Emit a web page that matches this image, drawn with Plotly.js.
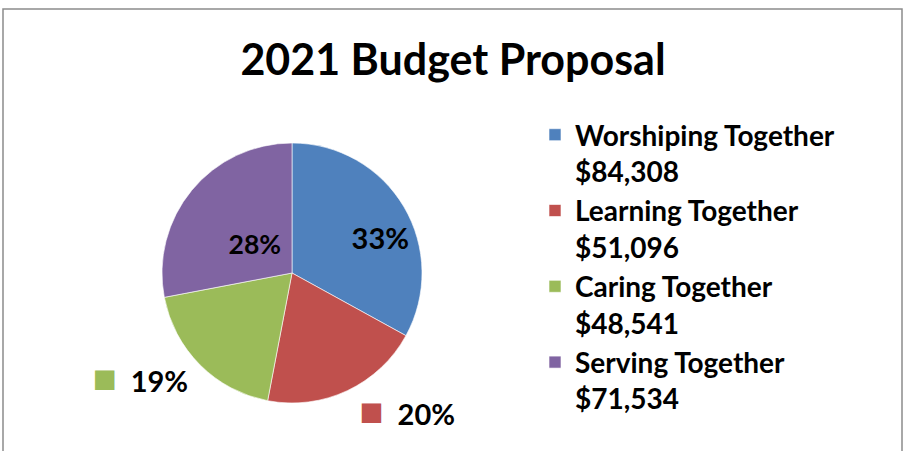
<!DOCTYPE html>
<html>
<head>
<meta charset="utf-8">
<script src="https://cdn.plot.ly/plotly-3.0.1.min.js"></script>
<style>html,body{margin:0;padding:0;background:#fff;}#chart{width:905px;height:451px;}</style>
</head>
<body>
<div id="chart"></div>
<script>
const categories = ["Worshiping Together", "Learning Together", "Caring Together", "Serving Together"];
const amounts = [84308, 51096, 48541, 71534];
const amountLabels = ["$84,308", "$51,096", "$48,541", "$71,534"];
const colors = ["#4F81BD", "#C0504D", "#9BBB59", "#8064A2"];
const textPositions = ["inside", "outside", "outside", "inside"];
const titleText = "2021 Budget Proposal";

const NB = "\u00A0";
const legendLabels = categories.map((c, i) => c + "<br>" + amountLabels[i]);
// inside labels padded to sit where the original chart placed them
const texts = [
  NB.repeat(8) + "%{percent:.0%}",
  '<span style="color:' + colors[1] + ';font-size:40px">■</span>  %{percent:.0%}',
  '<span style="color:' + colors[2] + ';font-size:40px">■</span>  %{percent:.0%}',
  NB + "<br>" + NB.repeat(6) + "%{percent:.0%}"
];

const pctFont = {family: "Lato, sans-serif", size: 29, color: "#000000", weight: "bold"};

const trace = {
  type: "pie",
  labels: legendLabels,
  values: amounts,
  sort: false,
  direction: "clockwise",
  rotation: 0,
  marker: {colors: colors, line: {color: "#ffffff", width: 0.6}},
  textposition: textPositions,
  texttemplate: texts,
  textfont: pctFont,
  insidetextfont: pctFont,
  outsidetextfont: pctFont,
  insidetextorientation: "horizontal",
  hoverinfo: "label+percent",
  domain: {x: [162/905, 422/905], y: [1 - 403/451, 1 - 143/451]}
};

const layout = {
  width: 905, height: 451,
  margin: {l: 0, r: 0, t: 0, b: 0},
  paper_bgcolor: "#ffffff",
  title: {text: "<b>" + titleText + "</b>", font: {family: "Lato, sans-serif", size: 43, color: "#000000"},
          x: 453/905, xanchor: "center", y: 1 - 60/451, yanchor: "middle"},
  showlegend: true,
  legend: {x: 535/905, xanchor: "left", y: 1 - 110/451, yanchor: "top", valign: "top",
           font: {family: "Lato, sans-serif", size: 28, color: "#000000", weight: "bold"}},
  shapes: [{type: "rect", xref: "paper", yref: "paper", x0: 3/905, x1: 902/905, y0: -0.05, y1: 1 - 9/451,
            line: {color: "#8c8c8c", width: 1.5}, fillcolor: "rgba(0,0,0,0)"}]
};

Plotly.newPlot("chart", [trace], layout, {displayModeBar: false, staticPlot: true});
</script>
</body>
</html>
